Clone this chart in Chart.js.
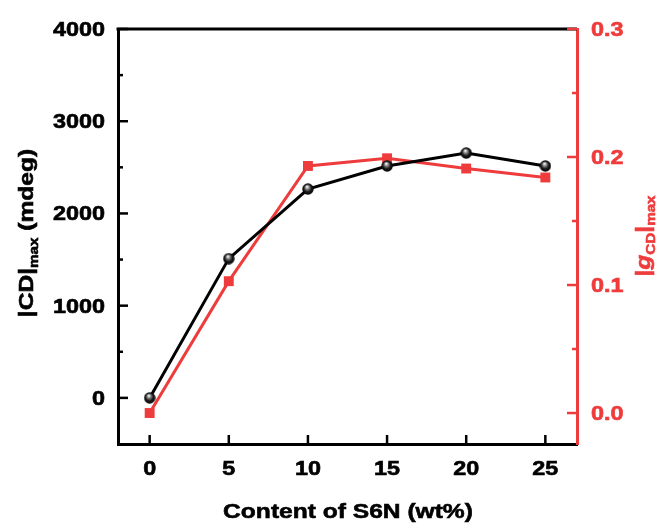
<!DOCTYPE html>
<html>
<head>
<meta charset="utf-8">
<script src="https://cdn.jsdelivr.net/npm/chart.js@4/dist/chart.umd.min.js"></script>
<style>
  html, body { margin: 0; padding: 0; background: #fff; }
  canvas { display: block; }
</style>
</head>
<body>
<canvas id="cdChart" width="662" height="523" style="width:662px;height:523px"></canvas>
<script>
// CD and g-factor versus S6N content

// Data
const contents = [0, 5, 10, 15, 20, 25];
const cdMax = [0, 1510, 2265, 2515, 2655, 2515];
const gMax = [0.0, 0.103, 0.193, 0.199, 0.191, 0.184];

// Tick labels
const xTicks = [0, 5, 10, 15, 20, 25];
const cdTicks = [0, 1000, 2000, 3000, 4000];
const gTicks = [0.0, 0.1, 0.2, 0.3];

const RED = '#EE3B3B';
const FONT = '"Liberation Sans", Arial, sans-serif';
const STRETCH = 1.17; // text in the original is drawn a bit wide

// Shaded sphere used as the black marker
function makeSphere(size) {
    const c = document.createElement('canvas');
    c.width = size;
    c.height = size;
    const g = c.getContext('2d');
    const r = size / 2;
    const grad = g.createRadialGradient(r * 0.85, r * 0.6, 0.5, r, r, r);
    grad.addColorStop(0, '#f2f2f2');
    grad.addColorStop(0.25, '#8a8a8a');
    grad.addColorStop(0.6, '#1a1a1a');
    grad.addColorStop(1, '#000');
    g.fillStyle = grad;
    g.beginPath();
    g.arc(r, r, r - 0.3, 0, Math.PI * 2);
    g.fill();
    return c;
}
const sphere = makeSphere(12);

// Fill + thin stroke so the bold text looks as heavy as the original
function heavyText(ctx, str, x, y) {
    ctx.lineWidth = 0.6;
    ctx.strokeStyle = ctx.fillStyle;
    ctx.fillText(str, x, y);
    ctx.strokeText(str, x, y);
}

// Write text with a horizontal stretch along its own direction
function wideText(ctx, str, x, y, align) {
    ctx.save();
    ctx.translate(x, y);
    ctx.scale(STRETCH, 1);
    ctx.textAlign = align;
    ctx.textBaseline = 'alphabetic';
    heavyText(ctx, str, 0, 0);
    ctx.restore();
}

// Rotated title built from segments (for subscripts)
function verticalTitle(ctx, parts, cx, cy, color) {
    ctx.save();
    ctx.translate(cx, cy);
    ctx.rotate(-Math.PI / 2);
    ctx.scale(STRETCH, 1);
    ctx.fillStyle = color;
    ctx.textBaseline = 'alphabetic';
    ctx.textAlign = 'left';
    let total = 0;
    parts.forEach(p => {
        ctx.font = p.font;
        p.w = ctx.measureText(p.t).width;
        total += p.w;
    });
    let x = -total / 2;
    parts.forEach(p => {
        ctx.font = p.font;
        heavyText(ctx, p.t, x, p.dy || 0);
        x += p.w;
    });
    ctx.restore();
}

// Inward ticks, top frame line, all labels
const axisDecor = {
    id: 'axisDecor',
    beforeDatasetsDraw(chart) {
        const { ctx, chartArea: a, scales } = chart;
        ctx.save();
        ctx.lineWidth = 3;
        ctx.strokeStyle = '#000';
        ctx.beginPath();
        ctx.moveTo(a.left - 1.5, a.top);
        ctx.lineTo(a.right, a.top);
        ctx.stroke();

        ctx.lineWidth = 2.5;
        // x axis
        xTicks.forEach(v => {
            const px = scales.x.getPixelForValue(v);
            ctx.beginPath();
            ctx.moveTo(px, a.bottom);
            ctx.lineTo(px, a.bottom - 9);
            ctx.stroke();
        });
        // left axis, major + minor
        cdTicks.forEach((v, i) => {
            const py = scales.y.getPixelForValue(v);
            ctx.beginPath();
            ctx.moveTo(a.left, py);
            ctx.lineTo(a.left + 10, py);
            ctx.stroke();
            if (i > 0) {
                const pm = scales.y.getPixelForValue((v + cdTicks[i - 1]) / 2);
                ctx.beginPath();
                ctx.moveTo(a.left, pm);
                ctx.lineTo(a.left + 5, pm);
                ctx.stroke();
            }
        });
        // right axis
        ctx.strokeStyle = RED;
        gTicks.forEach((v, i) => {
            const py = scales.y2.getPixelForValue(v);
            ctx.beginPath();
            ctx.moveTo(a.right, py);
            ctx.lineTo(a.right - 10, py);
            ctx.stroke();
            if (i > 0) {
                const pm = scales.y2.getPixelForValue((v + gTicks[i - 1]) / 2);
                ctx.beginPath();
                ctx.moveTo(a.right, pm);
                ctx.lineTo(a.right - 5, pm);
                ctx.stroke();
            }
        });
        ctx.restore();
    },
    afterDraw(chart) {
        const { ctx, chartArea: a, scales } = chart;
        ctx.save();
        ctx.font = 'bold 20px ' + FONT;
        ctx.fillStyle = '#000';
        xTicks.forEach(v => {
            wideText(ctx, String(v), scales.x.getPixelForValue(v), 475, 'center');
        });
        cdTicks.forEach(v => {
            wideText(ctx, String(v), a.left - 13, scales.y.getPixelForValue(v) + 7, 'right');
        });
        ctx.fillStyle = RED;
        gTicks.forEach(v => {
            wideText(ctx, v.toFixed(1), a.right + 14, scales.y2.getPixelForValue(v) + 7, 'left');
        });

        ctx.fillStyle = '#000';
        ctx.font = 'bold 21px ' + FONT;
        wideText(ctx, 'Content of S6N (wt%)', 348, 518, 'center');

        verticalTitle(ctx, [
            { t: '|CD|', font: 'bold 21px ' + FONT },
            { t: 'max', font: 'bold 13px ' + FONT, dy: 5 },
            { t: ' (mdeg)', font: 'bold 21px ' + FONT }
        ], 33, 233, '#000');

        verticalTitle(ctx, [
            { t: '|', font: 'bold 21px ' + FONT },
            { t: 'g', font: 'italic bold 21px ' + FONT },
            { t: 'CD', font: 'bold 13px ' + FONT, dy: 5 },
            { t: '|', font: 'bold 21px ' + FONT },
            { t: 'max', font: 'bold 13px ' + FONT, dy: 5 }
        ], 650, 236, RED);
        ctx.restore();
    }
};

const hiddenTicks = { display: false };
const noGrid = { display: true, drawOnChartArea: false, drawTicks: false };

new Chart(document.getElementById('cdChart'), {
    type: 'line',
    data: {
        datasets: [{
            label: '|CD|max',
            data: contents.map((x, i) => ({ x: x, y: cdMax[i] })),
            yAxisID: 'y',
            borderColor: '#000',
            borderWidth: 3,
            pointStyle: sphere,
            pointRadius: 6,
            tension: 0
        }, {
            label: '|gCD|max',
            data: contents.map((x, i) => ({ x: x, y: gMax[i] })),
            yAxisID: 'y2',
            borderColor: RED,
            backgroundColor: RED,
            borderWidth: 3,
            pointStyle: 'rect',
            pointRadius: 7,
            pointBorderWidth: 0,
            tension: 0
        }]
    },
    options: {
        responsive: false,
        animation: false,
        layout: { padding: { top: 29, left: 0, right: 0, bottom: 0 } },
        plugins: {
            legend: { display: false },
            tooltip: { enabled: false }
        },
        scales: {
            x: {
                type: 'linear',
                min: -2,
                max: 27,
                ticks: hiddenTicks,
                grid: noGrid,
                border: { display: true, color: '#000', width: 3 },
                afterBuildTicks: s => { s.ticks = xTicks.map(v => ({ value: v })); },
                afterFit: s => { s.height = 79; }
            },
            y: {
                position: 'left',
                min: -500,
                max: 4000,
                ticks: hiddenTicks,
                grid: noGrid,
                border: { display: true, color: '#000', width: 3 },
                afterBuildTicks: s => { s.ticks = cdTicks.map(v => ({ value: v })); },
                afterFit: s => { s.width = 118; }
            },
            y2: {
                position: 'right',
                min: -0.0242,
                max: 0.3,
                ticks: hiddenTicks,
                grid: noGrid,
                border: { display: true, color: RED, width: 3 },
                afterBuildTicks: s => { s.ticks = gTicks.map(v => ({ value: v })); },
                afterFit: s => { s.width = 85; }
            }
        }
    },
    plugins: [axisDecor]
});
</script>
</body>
</html>
